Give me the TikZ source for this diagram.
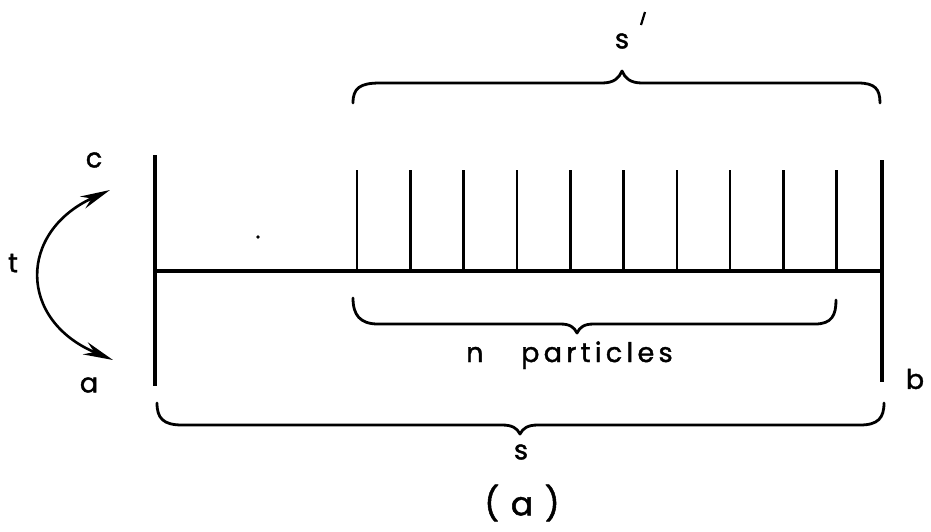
\documentclass[tikz,border=0pt]{standalone}
\usepackage{fontspec}
\setmainfont{Poppins}
\newfontfamily\lblfont{Poppins}[RawFeature={embolden=1.5}, LetterSpace=6]
\newfontfamily\widefont{Poppins}[RawFeature={embolden=1.5}, LetterSpace=16]
\usetikzlibrary{arrows.meta}
\begin{document}
\begin{tikzpicture}[x=1pt,y=-1pt,
  heavy/.style={line width=3.2pt},
  tickline/.style={line width=2.6pt},
  bracestyle/.style={line width=2.8pt, line cap=round, line join=round},
  lbl/.style={font=\lblfont\fontsize{27}{29}\selectfont, inner sep=0pt},
  widelbl/.style={font=\widefont\fontsize{27}{29}\selectfont, inner sep=0pt},
  biglbl/.style={font=\lblfont\fontsize{33}{35}\selectfont, inner sep=0pt},
  bothtips/.style={{Stealth[length=30pt,width=13pt]}-{Stealth[length=30pt,width=13pt]}}]
\fill[white] (0,0) rectangle (931,531);
\useasboundingbox (0,0) rectangle (931,531);
% main lines
\coordinate (LT) at (155,155);
\coordinate (LB) at (155,386);
\coordinate (RT) at (882,160);
\coordinate (RB) at (882,382);
\coordinate (HL) at (155,271);
\coordinate (HR) at (882,271);
\draw[heavy] (LT) -- (LB);
\draw[heavy] (RT) -- (RB);
\draw[heavy] (HL) -- (HR);
\foreach \i in {0,...,9} {
  \coordinate (P\i top) at ({357+\i*53.3},170);
  \coordinate (P\i bot) at ({357+\i*53.3},271);
  \draw[tickline] (P\i top) -- (P\i bot);
}
% curved double arrow
\coordinate (arrA) at (113,360);
\coordinate (arrC) at (110,190);
\draw[line width=2.6pt, bothtips] (arrA) .. controls (18,320) and (18,232) .. (arrC);
% braces
\draw[bracestyle] (353,103) .. controls (353,88) and (360,83) .. (380,83) -- (602,83)
  .. controls (614,83) and (619,78) .. (622,71) .. controls (625,78) and (630,83) .. (642,83)
  -- (858,83) .. controls (875,83) and (880,89) .. (880,103);
\draw[bracestyle] (353,298) .. controls (353,315) and (360,324) .. (378,324) -- (560,324)
  .. controls (570,324) and (574,327) .. (577,333) .. controls (580,327) and (584,324) .. (594,324)
  -- (815,324) .. controls (832,324) and (836,315) .. (836,300);
\draw[bracestyle] (157,403) .. controls (157,418) and (163,425) .. (182,425) -- (502,425)
  .. controls (512,425) and (517,428) .. (520,434) .. controls (523,428) and (528,425) .. (538,425)
  -- (860,425) .. controls (878,425) and (884,418) .. (884,403);
% speck
\fill (258,237) circle (1.8);
% labels
\node[lbl] (c) at (94,160) {c};
\node[lbl] (t) at (13,263) {t};
\node[lbl] (a) at (89,385) {a};
\node[lbl] (b) at (915,379) {b};
\node[lbl] (sprime) at (622,41) {s};
\draw[line width=2.2pt] (645,12) coordinate (pmA) -- (641,25) coordinate (pmB);
\node[lbl, anchor=base west] (nn) at (466,362) {n};
\node[widelbl, anchor=base west] (npart) at (521,362) {particles};
\node[lbl] (s) at (521,452) {s};
\node[biglbl] (caption) at (522,503) {(\hspace{0.35em}a\hspace{0.35em})};
\end{tikzpicture}
\end{document}
